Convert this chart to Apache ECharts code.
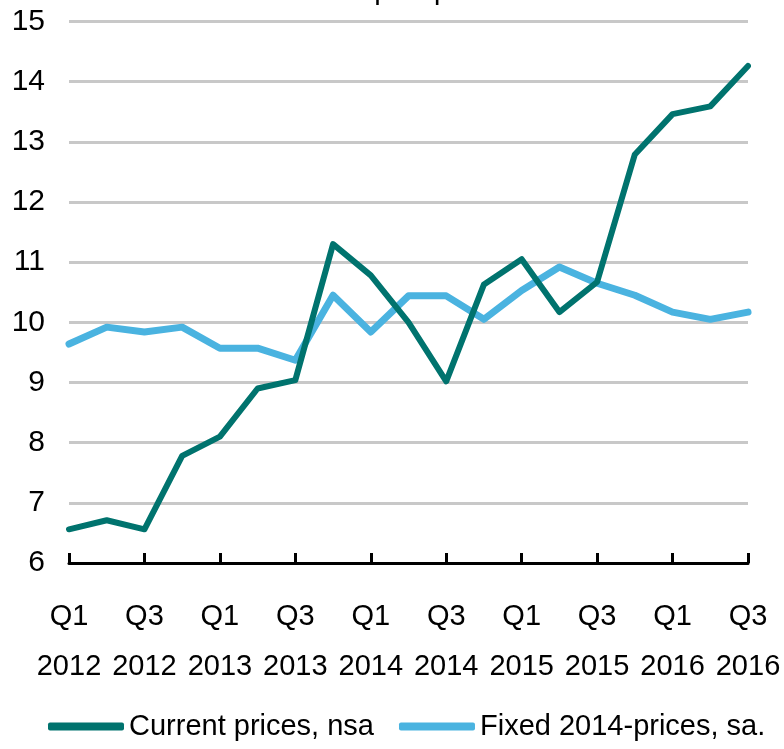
<!DOCTYPE html>
<html>
<head>
<meta charset="utf-8">
<script src="https://cdn.jsdelivr.net/npm/echarts@6/dist/echarts.min.js"></script>
<style>
  html, body { margin: 0; padding: 0; background: #fff; }
  #chart { width: 784px; height: 749px; }
</style>
</head>
<body>
<div id="chart"></div>
<script>
const quarters = [
  'Q1\n2012', 'Q2\n2012', 'Q3\n2012', 'Q4\n2012',
  'Q1\n2013', 'Q2\n2013', 'Q3\n2013', 'Q4\n2013',
  'Q1\n2014', 'Q2\n2014', 'Q3\n2014', 'Q4\n2014',
  'Q1\n2015', 'Q2\n2015', 'Q3\n2015', 'Q4\n2015',
  'Q1\n2016', 'Q2\n2016', 'Q3\n2016'
];
const currentPrices = [
  6.56, 6.71, 6.56, 7.78, 8.10, 8.90, 9.04, 11.30, 10.78, 10.00,
  9.02, 10.63, 11.05, 10.17, 10.67, 12.79, 13.46, 13.59, 14.26
];
const fixedPrices = [
  9.64, 9.92, 9.84, 9.92, 9.57, 9.57, 9.37, 10.45, 9.84, 10.44,
  10.44, 10.05, 10.53, 10.92, 10.65, 10.45, 10.17, 10.05, 10.17
];
const seriesNames = ['Current prices, nsa', 'Fixed 2014-prices, sa.'];
const titleText = 'SEK bn per quarter';

const font = '"Liberation Sans", Arial, sans-serif';

const chart = echarts.init(document.getElementById('chart'));

chart.setOption({
  animation: false,
  title: {
    text: titleText,
    left: 'center',
    top: -29,
    textStyle: { fontFamily: font, fontSize: 29, fontWeight: 'normal', color: '#000' }
  },
  legend: {
    data: seriesNames,
    left: 43,
    top: 707,
    icon: 'roundRect',
    itemWidth: 76,
    itemHeight: 8,
    itemGap: 25,
    textStyle: { fontFamily: font, fontSize: 29, color: '#000' }
  },
  grid: { left: 69, right: 36, top: 21.5, bottom: 186 },
  xAxis: {
    type: 'category',
    data: quarters,
    boundaryGap: false,
    axisLine: { lineStyle: { color: '#000', width: 3 } },
    axisTick: { inside: true, length: 10, interval: 1, lineStyle: { color: '#000', width: 3 } },
    axisLabel: {
      interval: 1,
      showMinLabel: true,
      showMaxLabel: true,
      hideOverlap: false,
      margin: 29,
      lineHeight: 50,
      fontFamily: font,
      fontSize: 29,
      color: '#000'
    }
  },
  yAxis: {
    type: 'value',
    min: 6,
    max: 15,
    interval: 1,
    axisLine: { show: false },
    axisTick: { show: false },
    axisLabel: { margin: 24, fontFamily: font, fontSize: 30, color: '#000' },
    splitLine: { lineStyle: { color: '#c8c8c8', width: 3 } }
  },
  series: [
    {
      name: seriesNames[0],
      type: 'line',
      data: currentPrices,
      symbol: 'none',
      z: 3,
      itemStyle: { color: '#00736e' },
      lineStyle: { color: '#00736e', width: 6, cap: 'round', join: 'round' }
    },
    {
      name: seriesNames[1],
      type: 'line',
      data: fixedPrices,
      symbol: 'none',
      z: 2,
      itemStyle: { color: '#4ab3e0' },
      lineStyle: { color: '#4ab3e0', width: 7, cap: 'round', join: 'round' }
    }
  ]
});
</script>
</body>
</html>
